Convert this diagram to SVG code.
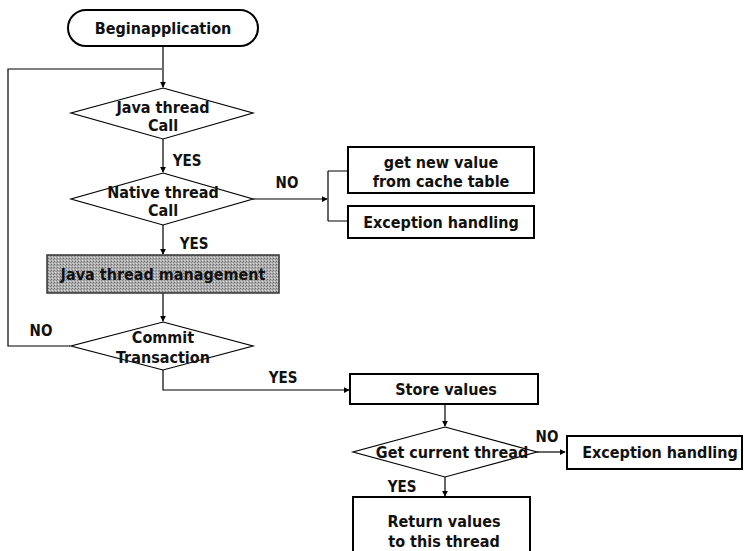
<svg xmlns="http://www.w3.org/2000/svg" width="744" height="551" viewBox="0 0 744 551">
  <defs>
    <marker id="arr" viewBox="0 0 8 8" refX="7" refY="4" markerWidth="6" markerHeight="6" orient="auto" markerUnits="userSpaceOnUse">
      <path d="M0,0 L8,4 L0,8 z" fill="#000"/>
    </marker>
    <pattern id="stipple" width="3" height="3" patternUnits="userSpaceOnUse">
      <rect width="3" height="3" fill="#b0b0b0"/>
      <rect x="0" y="0" width="1" height="1" fill="#6a6a6a"/>
      <rect x="2" y="1" width="1" height="1" fill="#888"/>
      <rect x="1" y="2" width="1" height="1" fill="#d8d8d8"/>
    </pattern>
  </defs>
  <style>
    .t { font-family: "DejaVu Sans Condensed", "DejaVu Sans", sans-serif; font-weight: bold; font-size: 16px; fill: #111; text-anchor: middle; }
    .lbl { font-family: "DejaVu Sans Condensed", "DejaVu Sans", sans-serif; font-weight: bold; font-size: 15px; fill: #111; text-anchor: middle; }
    .box { fill: #fff; stroke: #000; stroke-width: 2; }
    .dia { fill: #fff; stroke: #000; stroke-width: 1.2; }
    .ln { fill: none; stroke: #000; stroke-width: 1.2; }
  </style>
  <rect width="744" height="551" fill="#fff"/>

  <g id="connectors">
    <path class="ln" d="M163,46 V87" marker-end="url(#arr)"/>
    <path class="ln" d="M70,346 H8 V69 H162"/>
    <path class="ln" d="M163,139 V172" marker-end="url(#arr)"/>
    <path class="ln" d="M253,199 H327" marker-end="url(#arr)"/>
    <path class="ln" d="M328,171 V221 M328,171 H348 M328,221 H348"/>
    <path class="ln" d="M163,225 V254" marker-end="url(#arr)"/>
    <path class="ln" d="M163,293 V321" marker-end="url(#arr)"/>
    <path class="ln" d="M163,370 V390 H349" marker-end="url(#arr)"/>
    <path class="ln" d="M445,404 V426" marker-end="url(#arr)"/>
    <path class="ln" d="M537,452 H565" marker-end="url(#arr)"/>
    <path class="ln" d="M445,477 V496" marker-end="url(#arr)"/>
    <text class="lbl" x="187" y="166">YES</text>
    <text class="lbl" x="287" y="188">NO</text>
    <text class="lbl" x="194" y="249">YES</text>
    <text class="lbl" x="41" y="336">NO</text>
    <text class="lbl" x="283" y="383">YES</text>
    <text class="lbl" x="547" y="442">NO</text>
    <text class="lbl" x="402" y="492">YES</text>
  </g>

  <g id="begin">
    <rect x="68" y="10" width="190" height="36" rx="18" ry="18" class="box" stroke-width="1.3"/>
    <text class="t" x="163" y="34">Beginapplication</text>
  </g>

  <g id="java-thread-call">
    <polygon class="dia" points="163,88 253,113 163,139 71,113"/>
    <text class="t" x="163" y="113">Java thread</text>
    <text class="t" x="163" y="131">Call</text>
  </g>

  <g id="native-thread-call">
    <polygon class="dia" points="163,173 253,199 163,225 71,199"/>
    <text class="t" x="163" y="198">Native thread</text>
    <text class="t" x="163" y="216">Call</text>
  </g>

  <g id="cache-value">
    <rect x="348" y="147" width="186" height="46" class="box"/>
    <text class="t" x="441" y="168">get new value</text>
    <text class="t" x="441" y="187">from cache table</text>
  </g>

  <g id="exception-1">
    <rect x="348" y="206" width="186" height="32" class="box"/>
    <text class="t" x="441" y="228">Exception handling</text>
  </g>

  <g id="thread-management">
    <rect x="47" y="255" width="232" height="38" fill="url(#stipple)" stroke="#333" stroke-width="1.5"/>
    <text class="t" x="163" y="280">Java thread management</text>
  </g>

  <g id="commit-transaction">
    <polygon class="dia" points="163,322 253,346 163,370 71,346"/>
    <text class="t" x="163" y="343">Commit</text>
    <text class="t" x="163" y="363">Transaction</text>
  </g>

  <g id="store-values">
    <rect x="350" y="374" width="188" height="30" class="box"/>
    <text class="t" x="446" y="395">Store values</text>
  </g>

  <g id="get-current-thread">
    <polygon class="dia" points="445,427 537,452 445,477 353,452"/>
    <text class="t" x="452" y="458">Get current thread</text>
  </g>

  <g id="exception-2">
    <rect x="567" y="436" width="175" height="33" class="box"/>
    <text class="t" x="660" y="458">Exception handling</text>
  </g>

  <g id="return-values">
    <rect x="353" y="497" width="177" height="60" class="box" stroke-width="1.3"/>
    <text class="t" x="444" y="527">Return values</text>
    <text class="t" x="444" y="547">to this thread</text>
  </g>
</svg>
